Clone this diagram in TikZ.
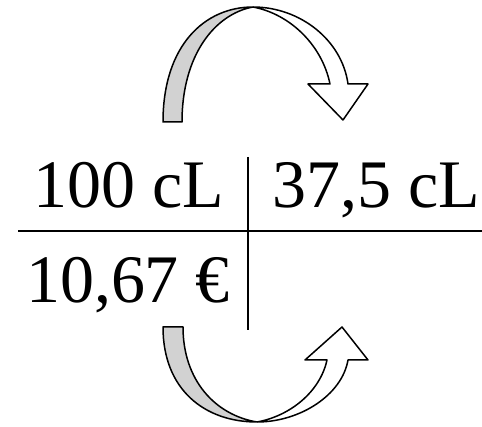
\documentclass[tikz,border=0pt]{standalone}
\usepackage{fontspec}
\setmainfont{Liberation Serif}
\usepackage{tikz}
\usepackage{xcolor}
\definecolor{bandgray}{RGB}{210,210,210}

\tikzset{
  cell/.style={anchor=base, inner sep=0pt, font=\fontsize{68}{80}\selectfont},
  band/.style={draw=black, line width=1.5pt, line join=round},
}

\begin{document}
\begin{tikzpicture}[x=1pt, y=-1pt]
    \useasboundingbox (0,0) rectangle (482,427);

    % table
    \draw[line width=1.6pt] (18,231) -- (482,231);
    \draw[line width=1.6pt] (248,157) -- (248,330);
    \node[cell] (vol1) at (129,208) {100 cL};
    \node[cell] (vol2) at (376,208) {37,5 cL};
    \node[cell] (price1) at (128,303) {10,67 €};

    % upper arrow
    \fill[bandgray] (163,122) .. controls (163,45) and (205,7) .. (253,7)
        .. controls (215,14) and (182,55) .. (182,122) -- cycle;
    \draw[band] (163,122) .. controls (163,45) and (205,7) .. (253,7)
        .. controls (215,14) and (182,55) .. (182,122) -- cycle;
    \draw[band, fill=white] (253,7) .. controls (300,7) and (342,40) .. (348,84)
        -- (368,84) -- (343,120) -- (308,84) -- (330,84)
        .. controls (322,45) and (290,14) .. (253,7);

    % lower arrow
    \fill[bandgray] (163,327) .. controls (163,390) and (205,422) .. (257,422)
        .. controls (215,415) and (183,380) .. (183,327) -- cycle;
    \draw[band] (163,327) .. controls (163,390) and (205,422) .. (257,422)
        .. controls (215,415) and (183,380) .. (183,327) -- cycle;
    \draw[band, fill=white] (257,422) .. controls (300,422) and (342,395) .. (348,360)
        -- (368,360) -- (342,327) -- (305,360) -- (327,360)
        .. controls (320,392) and (290,416) .. (257,422);
\end{tikzpicture}
\end{document}
